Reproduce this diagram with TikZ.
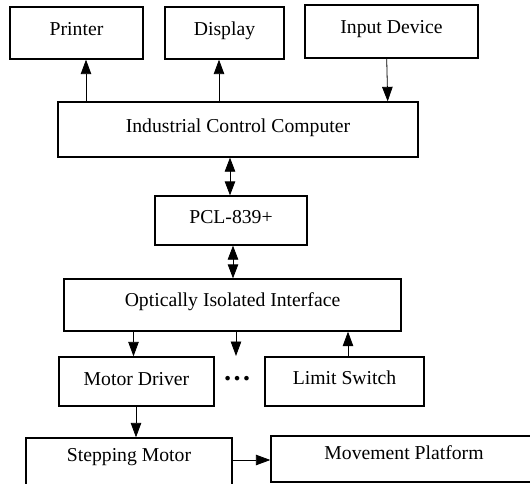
\documentclass[tikz,border=0pt]{standalone}
\usepackage{fontspec}
\setmainfont{Liberation Serif}
\usetikzlibrary{arrows.meta}
\begin{document}
\begin{tikzpicture}[x=1pt,y=-1pt,
  box/.style={draw, line width=1.3pt, rectangle, inner sep=0pt, text height=12pt, text depth=7pt,
    font=\fontsize{19.7}{22}\selectfont},
  arr/.style={line width=0.8pt, -{Triangle[length=14.5pt,width=10.5pt]}},
  darr/.style={line width=0.8pt, {Triangle[length=14pt,width=10.5pt]}-{Triangle[length=14pt,width=10.5pt]}}]
\useasboundingbox (0,0) rectangle (530,484);
\clip (0,0) rectangle (530,484);
\node[box, minimum width=133pt, minimum height=52pt] (printer) at (76.5,33) {Printer};
\node[box, minimum width=119pt, minimum height=52pt] (display) at (224.5,33) {Display};
\node[box, minimum width=173pt, minimum height=53pt] (input) at (391.5,31.5) {Input Device};
\node[box, minimum width=360pt, minimum height=55pt] (icc) at (238,129.5) {Industrial Control Computer};
\node[box, minimum width=152pt, minimum height=49pt, text depth=6pt] (pcl) at (231,220.5) {PCL-839+};
\node[box, minimum width=337pt, minimum height=52pt, text depth=10pt] (oii) at (232.5,305) {Optically Isolated Interface};
\node[box, minimum width=155pt, minimum height=49pt, text depth=5pt] (md) at (136.5,381.5) {Motor Driver};
\node[box, minimum width=159pt, minimum height=49pt] (ls) at (344.5,381.5) {Limit Switch};
\node[box, minimum width=206pt, minimum height=54pt, text height=8pt, text depth=14.6pt] (sm) at (129,465) {Stepping Motor};
\node[box, minimum width=266pt, minimum height=46pt, text height=11pt, text depth=10.4pt] (mp) at (404,459) {Movement Platform};
\node[font=\fontsize{28}{28}\selectfont\bfseries, inner sep=0pt] (dots) at (237,379) {…};
\coordinate (mid) at (236,356);
\draw[arr] (86,0 |- icc.north) -- (86,0 |- printer.south);
\draw[arr] (219,0 |- icc.north) -- (219,0 |- display.south);
\draw[arr] (386.7,0 |- input.south) -- (387.7,0 |- icc.north);
\draw[darr] (230,0 |- icc.south) -- (230,0 |- pcl.north);
\draw[darr] (233,0 |- pcl.south) -- (233,0 |- oii.north);
\draw[arr] (133.5,0 |- oii.south) -- (133.5,0 |- md.north);
\draw[arr] (236,0 |- oii.south) -- (mid);
\draw[arr] (348,0 |- ls.north) -- (348,0 |- oii.south);
\draw[arr] (136,0 |- md.south) -- (136,0 |- sm.north);
\draw[arr] (sm.east |- 0,460) -- (mp.west |- 0,460);
\end{tikzpicture}
\end{document}
